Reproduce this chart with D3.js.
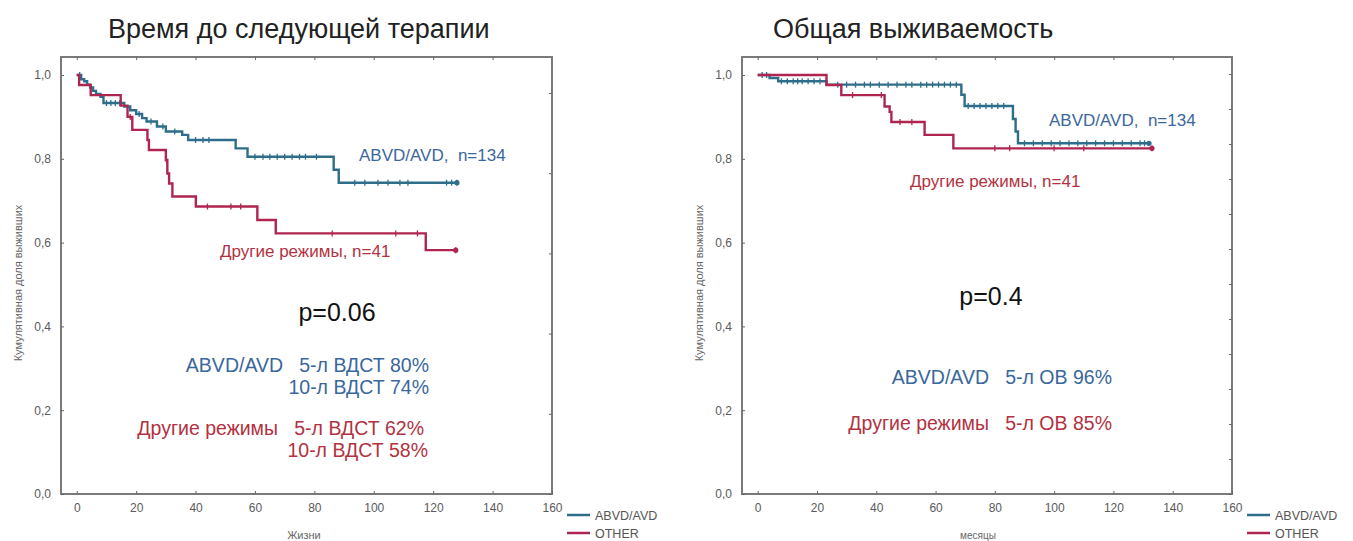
<!DOCTYPE html>
<html>
<head>
<meta charset="utf-8">
<script src="https://cdn.jsdelivr.net/npm/d3@7"></script>
<style>
  body { margin: 0; background: #fff; }
  svg { display: block; font-family: "Liberation Sans", Arial, sans-serif; }
</style>
</head>
<body>
<svg id="chart" width="1353" height="541"></svg>
<script>
// Kaplan-Meier steps (months, cumulative share)
var tntAbvdTime = [0, 1.5, 2.5, 3.5, 4.5, 5.5, 6.5, 8, 9, 16, 18, 20, 22, 23.5, 27, 30, 35.5, 37.5, 53.5, 57.5, 86.5, 88.2];
var tntAbvdSurv = [1.0, 0.99, 0.985, 0.977, 0.97, 0.962, 0.955, 0.948, 0.933, 0.925, 0.916, 0.907, 0.897, 0.889, 0.877, 0.865, 0.857, 0.845, 0.825, 0.805, 0.774, 0.743];
var tntAbvdCens = [1, 10, 11.5, 13, 14.5, 21, 25, 29, 33, 40, 42.5, 44.5, 60, 62.7, 65, 67.5, 70, 72.5, 75, 77, 80.7, 93.6, 97, 101.4, 104.8, 108.8, 111.5, 124.5, 126.2, 128];
var tntAbvdEnd = 128;

var tntOtherTime = [0, 0.8, 4.7, 14.8, 17.1, 18.7, 23.8, 24.3, 30, 30.5, 31.1, 32.2, 40.1, 60.8, 67, 117.5];
var tntOtherSurv = [1.0, 0.976, 0.952, 0.927, 0.90, 0.869, 0.845, 0.821, 0.797, 0.765, 0.741, 0.71, 0.686, 0.654, 0.622, 0.582];
var tntOtherCens = [18, 30.2, 44, 51.9, 55.2, 86, 107.4, 114.7, 127.6];
var tntOtherEnd = 127.6;

var osAbvdTime = [0, 4, 6.9, 23.2, 68.7, 69.8, 86.1, 87, 87.8];
var osAbvdSurv = [1.0, 0.993, 0.985, 0.977, 0.953, 0.926, 0.895, 0.865, 0.837];
var osAbvdCens = [1.5, 3, 8, 10, 12, 13.5, 15, 17, 19, 21, 27, 30, 33, 36, 38, 41, 44, 47, 50, 52, 55, 57, 59, 61, 63, 65, 67, 71, 73, 75, 77, 79, 81, 83, 90, 93, 96, 99, 102, 105, 108, 111, 114, 117, 120, 123, 126, 129, 130.5];
var osAbvdEnd = 132;

var osOtherTime = [0, 23.2, 28.2, 42.8, 44.5, 45.1, 56.3, 66];
var osOtherSurv = [1.0, 0.976, 0.952, 0.925, 0.912, 0.888, 0.857, 0.825];
var osOtherCens = [32, 41.7, 48, 52, 80, 85, 100, 110, 133];
var osOtherEnd = 133;

var xTicks = [0, 20, 40, 60, 80, 100, 120, 140, 160];
var yTicks = [0, 0.2, 0.4, 0.6, 0.8, 1.0];
var legendNames = ["ABVD/AVD", "OTHER"];

var BLUE = "#2e6e8a", RED = "#ae2650";
var BLUE_TXT = "#3a679c", RED_TXT = "#b2323f";

var svg = d3.select("#chart");

function buildSteps(times, surv, end) {
  var pts = times.map(function(t, i) { return [t, surv[i]]; });
  pts.push([end, surv[surv.length - 1]]);
  return pts;
}

function survAt(times, surv, t) {
  var s = surv[0];
  for (var i = 0; i < times.length; i++) { if (times[i] <= t) s = surv[i]; }
  return s;
}

function drawPanel(cfg) {
  var x = d3.scaleLinear().domain([-5.3, 160]).range([cfg.left, cfg.right]);
  var y = d3.scaleLinear().domain([0, 1]).range([494, 75]);
  var top = 57, bottom = 494;
  var g = svg.append("g");

  // title
  g.append("text")
    .attr("x", cfg.titleX).attr("y", 38)
    .attr("font-size", 27).attr("fill", "#222")
    .text(cfg.title);

  // frame
  g.append("rect")
    .attr("x", cfg.left).attr("y", top)
    .attr("width", cfg.right - cfg.left).attr("height", bottom - top)
    .attr("fill", "none").attr("stroke", "#7a7a7a").attr("stroke-width", 2);

  // bottom axis, inward ticks
  var xAxis = d3.axisBottom(x).tickValues(xTicks).tickSizeInner(-3).tickSizeOuter(0).tickPadding(9)
    .tickFormat(d3.format("d"));
  var gx = g.append("g").attr("transform", "translate(0," + bottom + ")").call(xAxis);
  gx.select(".domain").remove();
  gx.selectAll(".tick line").attr("stroke", "#666");
  gx.selectAll(".tick text").attr("fill", "#5a5a5a").attr("font-size", 12).attr("font-family", "Liberation Sans, Arial");

  // top ticks
  var gt = g.append("g").attr("transform", "translate(0," + top + ")")
    .call(d3.axisTop(x).tickValues(xTicks.slice(0, 8)).tickSizeInner(-3).tickSizeOuter(0).tickFormat(""));
  gt.select(".domain").remove();
  gt.selectAll(".tick line").attr("stroke", "#666");

  // left axis
  var yAxis = d3.axisLeft(y).tickValues(yTicks).tickSizeInner(-3).tickSizeOuter(0).tickPadding(10)
    .tickFormat(function(d) { return d3.format(".1f")(d).replace(".", ","); });
  var gy = g.append("g").attr("transform", "translate(" + cfg.left + ",0)").call(yAxis);
  gy.select(".domain").remove();
  gy.selectAll(".tick line").attr("stroke", "#666");
  gy.selectAll(".tick text").attr("fill", "#5a5a5a").attr("font-size", 12).attr("font-family", "Liberation Sans, Arial");

  // right-side ticks
  var yr = d3.scaleLinear().domain([0, cfg.rightTickCount]).range([bottom, cfg.rightTickTop]);
  var gr = g.append("g").attr("transform", "translate(" + cfg.right + ",0)")
    .call(d3.axisRight(yr).ticks(cfg.rightTickCount).tickSizeInner(-3).tickSizeOuter(0).tickFormat(""));
  gr.select(".domain").remove();
  gr.selectAll(".tick line").attr("stroke", "#666");

  // axis titles
  g.append("text")
    .attr("transform", "translate(" + cfg.yTitleX + ",283) rotate(-90)")
    .attr("text-anchor", "middle").attr("font-size", 11).attr("fill", "#666")
    .text("Кумулятивная доля выживших");
  g.append("text")
    .attr("x", cfg.xTitleX).attr("y", 539)
    .attr("text-anchor", "middle").attr("font-size", cfg.xTitleSize).attr("fill", "#666")
    .text(cfg.xTitle);

  var line = d3.line()
    .x(function(d) { return x(d[0]); })
    .y(function(d) { return y(d[1]); })
    .curve(d3.curveStepAfter);

  cfg.series.forEach(function(s) {
    g.append("path")
      .datum(buildSteps(s.time, s.surv, s.end))
      .attr("d", line)
      .attr("fill", "none").attr("stroke", s.color).attr("stroke-width", 2.4);

    g.selectAll(null)
      .data(s.cens)
      .enter()
      .append("line")
        .attr("x1", function(d) { return x(d); })
        .attr("x2", function(d) { return x(d); })
        .attr("y1", function(d) { return y(survAt(s.time, s.surv, d)) - 3; })
        .attr("y2", function(d) { return y(survAt(s.time, s.surv, d)) + 3; })
        .attr("stroke", s.color).attr("stroke-width", 1.3);

    g.append("circle")
      .attr("cx", x(s.end)).attr("cy", y(s.surv[s.surv.length - 1]))
      .attr("r", 2.6).attr("fill", s.color);
  });

  // annotations
  cfg.notes.forEach(function(n) {
    g.append("text")
      .attr("x", n.x).attr("y", n.y)
      .attr("text-anchor", n.anchor || "start")
      .attr("font-size", n.size).attr("fill", n.color)
      .attr("xml:space", "preserve")
      .text(n.text);
  });

  // legend
  var lg = g.append("g").attr("transform", "translate(" + cfg.legendX + ",515)");
  var legendColors = [BLUE, RED];
  legendNames.forEach(function(name, i) {
    lg.append("line")
      .attr("x1", 0).attr("x2", 23).attr("y1", i * 18).attr("y2", i * 18)
      .attr("stroke", legendColors[i]).attr("stroke-width", 2.5);
    lg.append("text")
      .attr("x", 28).attr("y", i * 18 + 4.5)
      .attr("font-size", 12.5).attr("fill", "#555")
      .text(name);
  });
}

drawPanel({
  title: "Время до следующей терапии", titleX: 108,
  left: 61, right: 552, rightTickCount: 5, rightTickTop: 93,
  yTitleX: 22, xTitle: "Жизни", xTitleX: 304, xTitleSize: 11, legendX: 567,
  series: [
    { time: tntAbvdTime, surv: tntAbvdSurv, cens: tntAbvdCens, end: tntAbvdEnd, color: BLUE },
    { time: tntOtherTime, surv: tntOtherSurv, cens: tntOtherCens, end: tntOtherEnd, color: RED }
  ],
  notes: [
    { text: "ABVD/AVD,  n=134", x: 359, y: 161, size: 17, color: BLUE_TXT },
    { text: "Другие режимы, n=41", x: 220, y: 257, size: 17, color: RED_TXT },
    { text: "p=0.06", x: 337, y: 321, size: 25, color: "#111", anchor: "middle" },
    { text: "ABVD/AVD   5-л ВДСТ 80%", x: 429, y: 372, size: 19.5, color: BLUE_TXT, anchor: "end" },
    { text: "10-л ВДСТ 74%", x: 429, y: 394, size: 19.5, color: BLUE_TXT, anchor: "end" },
    { text: "Другие режимы   5-л ВДСТ 62%", x: 424, y: 435, size: 19.5, color: RED_TXT, anchor: "end" },
    { text: "10-л ВДСТ 58%", x: 428, y: 457, size: 19.5, color: RED_TXT, anchor: "end" }
  ]
});

drawPanel({
  title: "Общая выживаемость", titleX: 773,
  left: 742, right: 1232, rightTickCount: 12, rightTickTop: 74,
  yTitleX: 703, xTitle: "месяцы", xTitleX: 978, xTitleSize: 10, legendX: 1247,
  series: [
    { time: osAbvdTime, surv: osAbvdSurv, cens: osAbvdCens, end: osAbvdEnd, color: BLUE },
    { time: osOtherTime, surv: osOtherSurv, cens: osOtherCens, end: osOtherEnd, color: RED }
  ],
  notes: [
    { text: "ABVD/AVD,  n=134", x: 1049, y: 126, size: 17, color: BLUE_TXT },
    { text: "Другие режимы, n=41", x: 910, y: 187, size: 17, color: RED_TXT },
    { text: "p=0.4", x: 991, y: 305, size: 25, color: "#111", anchor: "middle" },
    { text: "ABVD/AVD   5-л ОВ 96%", x: 1112, y: 384, size: 19.5, color: BLUE_TXT, anchor: "end" },
    { text: "Другие режимы   5-л ОВ 85%", x: 1112, y: 430, size: 19.5, color: RED_TXT, anchor: "end" }
  ]
});
</script>
</body>
</html>
